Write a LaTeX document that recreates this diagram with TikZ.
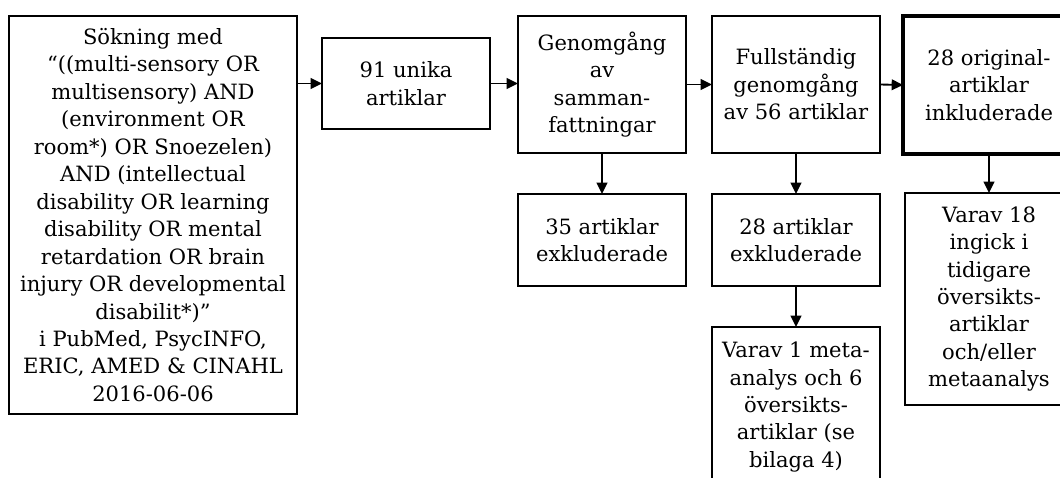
\documentclass[tikz,border=0pt]{standalone}
\usepackage{fontspec}
\setmainfont{DejaVu Serif}
\usetikzlibrary{arrows.meta,calc}
\tikzset{
  box/.style={draw, line width=1.8pt, inner sep=0pt, outer sep=0pt, align=center,
    font=\fontsize{15.8}{20.6}\selectfont},
  thickbox/.style={box, line width=3.6pt},
  arr/.style={line width=1.4pt, -{Triangle[length=8.5pt,width=8pt]}}
}
\begin{document}
\begin{tikzpicture}[x=0.75pt,y=-0.75pt]
\useasboundingbox (0,0) rectangle (1060,478);
\clip (0,0) rectangle (1060,478);
\node[box, minimum width=216pt, minimum height=298.5pt] (s1) at (153,215)
 {Sökning med\\ “((multi-sensory OR\\ multisensory) AND\\ (environment OR\\ room*) OR Snoezelen)\\ AND (intellectual\\ disability OR learning\\ disability OR mental\\ retardation OR brain\\ injury OR developmental\\ disabilit*)”\\ i PubMed, PsycINFO,\\ ERIC, AMED \& CINAHL\\ 2016-06-06};
\node[box, minimum width=126pt, minimum height=68.25pt] (n2) at (406,83.5) {91 unika\\ artiklar};
\node[box, minimum width=126pt, minimum height=102.75pt] (n3) at (602,84.5) {Genomgång\\ av\\ samman-\\ fattningar};
\node[box, minimum width=126pt, minimum height=69pt] (n3b) at (602,240) {35 artiklar\\ exkluderade};
\node[box, minimum width=126pt, minimum height=102.75pt] (n4) at (796,84.5) {Fullständig\\ genomgång\\ av 56 artiklar};
\node[box, minimum width=126pt, minimum height=69pt] (n4b) at (796,240) {28 artiklar\\ exkluderade};
\node[box, minimum width=126pt, minimum height=120pt] (n4c) at (796,407) {Varav 1 meta-\\ analys och 6\\ översikts-\\ artiklar (se\\ bilaga 4)};
\node[thickbox, minimum width=129pt, minimum height=103.5pt] (n5) at (989,85) {28 original-\\ artiklar\\ inkluderade};
\node[box, minimum width=126pt, minimum height=159pt] (n5b) at (989,299) {Varav 18\\ ingick i\\ tidigare\\ översikts-\\ artiklar\\ och/eller\\ metaanalys};
\draw[arr] (s1.east |- n2.west) -- (n2.west);
\draw[arr] (n2.east) -- (n2.east -| n3.west);
\draw[arr] (n3.east) -- (n4.west);
\draw[arr] (n4.east) -- (n5.west);
\draw[arr] (n3.south) -- (n3b.north);
\draw[arr] (n4.south) -- (n4b.north);
\draw[arr] (n4b.south) -- (n4c.north);
\draw[arr] (n5.south) -- (n5b.north);
\end{tikzpicture}
\end{document}
